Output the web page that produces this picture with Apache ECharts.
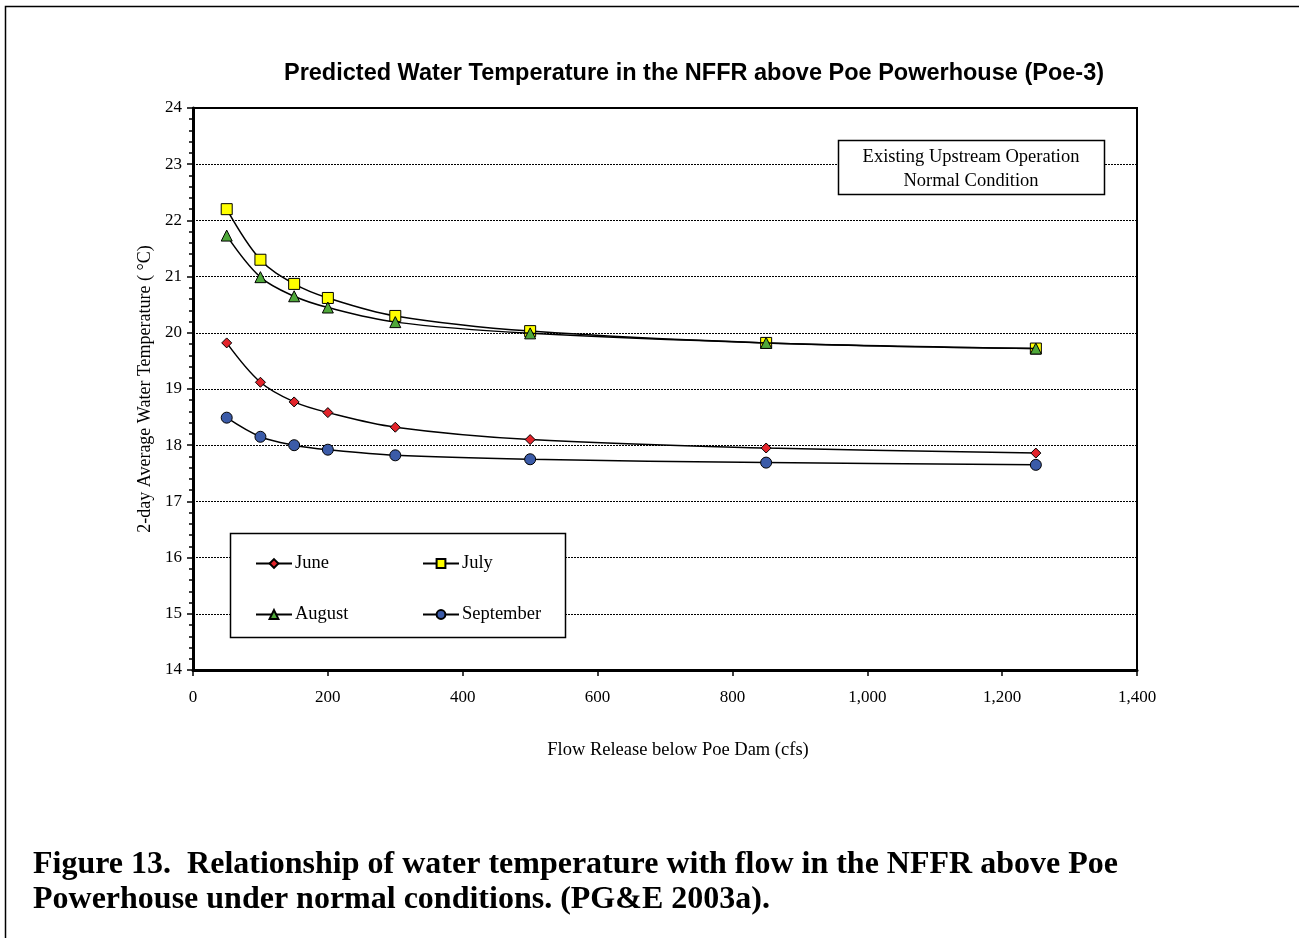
<!DOCTYPE html>
<html>
<head>
<meta charset="utf-8">
<script src="https://cdn.jsdelivr.net/npm/echarts@6/dist/echarts.min.js"></script>
<style>
html,body{margin:0;padding:0;background:#fff;}
#chart{width:1299px;height:938px;}
</style>
</head>
<body>
<div id="chart"></div>
<script>
const flows = [50, 100, 150, 200, 300, 500, 850, 1250];
const june = [19.82, 19.12, 18.77, 18.58, 18.32, 18.10, 17.95, 17.86];
const july = [22.20, 21.30, 20.87, 20.62, 20.30, 20.03, 19.82, 19.72];
const august = [21.73, 20.99, 20.65, 20.45, 20.19, 19.99, 19.82, 19.72];
const september = [18.49, 18.15, 18.00, 17.92, 17.82, 17.75, 17.69, 17.65];
const seriesNames = ['June', 'July', 'August', 'September'];

const serif = 'Liberation Serif';
const sans = 'Liberation Sans';

function pairs(vals){ return flows.map((f,i)=>[f, vals[i]]); }

const styles = [
  {symbol:'diamond', size:10, color:'#e3242b'},
  {symbol:'rect', size:11, color:'#ffff00'},
  {symbol:'triangle', size:11, color:'#4fa83a'},
  {symbol:'circle', size:11, color:'#3b5ba8'}
];
const dataSets = [june, july, august, september];

const series = seriesNames.map((n,i)=>({
  name:n, type:'line', data:pairs(dataSets[i]), smooth:0.35,
  symbol:styles[i].symbol, symbolSize:styles[i].size,
  lineStyle:{color:'#000', width:1.5},
  itemStyle:{color:styles[i].color, borderColor:'#000', borderWidth:1},
  emphasis:{disabled:true}, animation:false, z:3+i
}));

function legendFor(name, left, top){
  return {
    data:[name], left:left, top:top, itemWidth:36, itemHeight:11, itemGap:0,
    textStyle:{fontFamily:serif, fontSize:18.5, color:'#000', padding:[0,0,0,-2]},
    selectedMode:false
  };
}

const chart = echarts.init(document.getElementById('chart'));
chart.setOption({
  backgroundColor:'#fff',
  animation:false,
  title:{
    text:'Predicted Water Temperature in the NFFR above Poe Powerhouse (Poe-3)',
    left:689, top:57, textAlign:'center',
    textStyle:{fontFamily:sans, fontSize:23.5, fontWeight:'bold', color:'#000'}
  },
  legend:[
    legendFor('June', 250, 549),
    legendFor('July', 417, 549),
    legendFor('August', 250, 600),
    legendFor('September', 417, 600)
  ],
  grid:{left:193, right:1299-1137, top:108, bottom:938-670, show:true, borderColor:'#000', borderWidth:2, backgroundColor:'transparent'},
  xAxis:{
    type:'value', min:0, max:1400, interval:200,
    name:'Flow Release below Poe Dam (cfs)', nameLocation:'middle', nameGap:71,
    nameTextStyle:{fontFamily:serif, fontSize:18.5, color:'#000', padding:[0,0,0,26]},
    axisLine:{show:true, onZero:false, lineStyle:{color:'#000', width:3}},
    axisTick:{show:true, length:6, lineStyle:{color:'#000', width:1.5}},
    axisLabel:{fontFamily:serif, fontSize:17, color:'#000', margin:19,
      formatter:v=>v.toLocaleString('en-US')},
    splitLine:{show:false}
  },
  yAxis:{
    type:'value', min:14, max:24, interval:1,
    name:'2-day Average Water Temperature ( °C)', nameLocation:'middle', nameGap:39,
    nameTextStyle:{fontFamily:serif, fontSize:18, color:'#000'},
    axisLine:{show:true, onZero:false, lineStyle:{color:'#000', width:3}},
    axisTick:{show:true, length:6, lineStyle:{color:'#000', width:1.5}},
    minorTick:{show:true, splitNumber:5, length:4, lineStyle:{color:'#000', width:1.5}},
    axisLabel:{fontFamily:serif, fontSize:17, color:'#000', margin:11},
    splitLine:{show:true, lineStyle:{color:'#000', width:1, type:[2,1]}}
  },
  series:series,
  graphic:[
    {type:'rect', shape:{x:5.5, y:6.5, width:1300, height:940}, style:{fill:'none', stroke:'#000', lineWidth:1.5}, z:0, silent:true},
    {type:'rect', shape:{x:230.5, y:533.5, width:335, height:104}, style:{fill:'#fff', stroke:'#000', lineWidth:1.5}, z:1, silent:true},
    {type:'rect', shape:{x:838.5, y:140.5, width:266, height:54}, style:{fill:'#fff', stroke:'#000', lineWidth:1.5}, z:1, silent:true},
    {type:'text', x:971, y:157, style:{text:'Existing Upstream Operation', font:'18.5px "Liberation Serif"', fill:'#000', textAlign:'center', textVerticalAlign:'middle'}, z:2, silent:true},
    {type:'text', x:971, y:181, style:{text:'Normal Condition', font:'18.5px "Liberation Serif"', fill:'#000', textAlign:'center', textVerticalAlign:'middle'}, z:2, silent:true},
    {type:'text', x:33, y:865, style:{text:'Figure 13.  Relationship of water temperature with flow in the NFFR above Poe', font:'bold 32px "Liberation Serif"', fill:'#000', textVerticalAlign:'middle'}, z:2, silent:true},
    {type:'text', x:33, y:900, style:{text:'Powerhouse under normal conditions. (PG&E 2003a).', font:'bold 32px "Liberation Serif"', fill:'#000', textVerticalAlign:'middle'}, z:2, silent:true}
  ]
});
</script>
</body>
</html>
